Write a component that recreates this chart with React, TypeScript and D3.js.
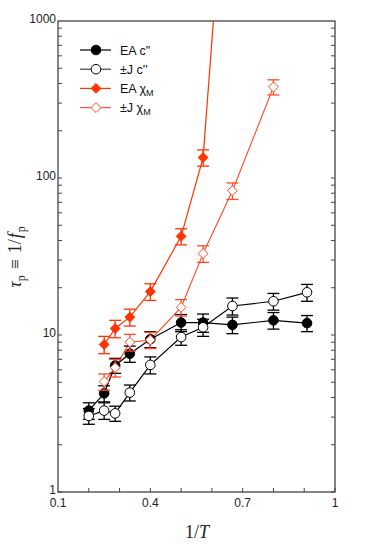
import * as d3 from "d3";
import { useEffect, useRef } from "react";

// 1/T values and peak times
const xEAc = [0.2, 0.25, 0.2857, 0.3333, 0.4, 0.5, 0.5714, 0.6667, 0.8, 0.9091];
const yEAc = [3.3, 4.25, 6.4, 7.6, 9.4, 12.0, 12.0, 11.6, 12.4, 11.9];
const eEAc = [0.4, 0.5, 0.7, 0.9, 1.1, 1.5, 1.6, 1.4, 1.5, 1.4];

const xPJc = [0.2, 0.25, 0.2857, 0.3333, 0.4, 0.5, 0.5714, 0.6667, 0.8, 0.9091];
const yPJc = [3.05, 3.3, 3.17, 4.3, 6.45, 9.7, 11.2, 15.3, 16.4, 18.7];
const ePJc = [0.35, 0.4, 0.35, 0.5, 0.8, 1.1, 1.4, 1.9, 2.0, 2.3];

const xEAx = [0.25, 0.2857, 0.3333, 0.4, 0.5, 0.5714, 0.6667];
const yEAx = [8.7, 11.0, 13.0, 18.9, 42.5, 135, 40000];
const eEAx = [1.1, 1.4, 1.6, 2.3, 5, 16, 0];

const xPJx = [0.25, 0.2857, 0.3333, 0.4, 0.5, 0.5714, 0.6667, 0.8];
const yPJx = [5.05, 6.2, 9.0, 9.3, 15.0, 33, 83, 380];
const ePJx = [0.6, 0.8, 1.1, 1.1, 1.8, 4, 10, 42];

const xTicks = [0.1, 0.4, 0.7, 1];
const yTicks = [1, 10, 100, 1000];

export default function App() {
  const ref = useRef<SVGSVGElement>(null);

  useEffect(() => {
    const W = 374, H = 548;
    const m = { left: 58, right: 39, top: 21, bottom: 56 };
    const svg = d3.select(ref.current);
    svg.selectAll("*").remove();

    const x = d3.scaleLinear().domain([0.1, 1]).range([m.left, W - m.right]);
    const y = d3.scaleLog().domain([1, 1000]).range([H - m.bottom, m.top]);

    const axisColor = "#444";
    const font = "'Liberation Sans', Arial, sans-serif";
    const serif = "'Liberation Serif', 'Times New Roman', serif";

    svg.append("defs").append("clipPath").attr("id", "plotclip")
      .append("rect")
      .attr("x", m.left).attr("y", m.top)
      .attr("width", W - m.left - m.right).attr("height", H - m.top - m.bottom);

    // ticks
    const g = svg.append("g");
    d3.range(1, 10).map(i => 0.1 * i + 0.1).forEach(v => {
      g.append("line").attr("x1", x(v)).attr("x2", x(v))
        .attr("y1", y(1)).attr("y2", y(1) - 4)
        .attr("stroke", axisColor).attr("stroke-width", 1);
    });
    const minor: number[] = [];
    [1, 10, 100].forEach(d => { for (let k = 1; k < 10; k++) minor.push(d * k); });
    minor.forEach(v => {
      g.append("line").attr("x1", m.left).attr("x2", m.left + 4)
        .attr("y1", y(v)).attr("y2", y(v)).attr("stroke", axisColor);
      g.append("line").attr("x1", W - m.right).attr("x2", W - m.right - 4)
        .attr("y1", y(v)).attr("y2", y(v)).attr("stroke", axisColor);
    });

    svg.append("rect")
      .attr("x", m.left).attr("y", m.top)
      .attr("width", W - m.left - m.right).attr("height", H - m.top - m.bottom)
      .attr("fill", "none").attr("stroke", axisColor).attr("stroke-width", 1.3);

    xTicks.forEach(v => {
      svg.append("text").attr("x", x(v)).attr("y", y(1) + 15)
        .attr("text-anchor", "middle").attr("font-family", font).attr("font-size", 12)
        .attr("fill", "#222").text(String(v));
    });
    yTicks.forEach(v => {
      svg.append("text").attr("x", m.left - 2).attr("y", y(v) + 2)
        .attr("text-anchor", "end").attr("font-family", font).attr("font-size", 12)
        .attr("fill", "#222").text(String(v));
    });

    // axis labels
    const xl = svg.append("text").attr("x", 197).attr("y", 538)
      .attr("text-anchor", "middle").attr("font-family", serif)
      .attr("font-size", 18).attr("fill", "#222");
    xl.append("tspan").text("1/");
    xl.append("tspan").attr("font-style", "italic").text("T");

    const yl = svg.append("text")
      .attr("transform", "translate(21,257) rotate(-90)")
      .attr("text-anchor", "middle").attr("font-family", serif)
      .attr("font-size", 18).attr("fill", "#222");
    yl.append("tspan").attr("font-style", "italic").text("τ");
    yl.append("tspan").attr("font-size", 12).attr("dy", 4).text("p");
    yl.append("tspan").attr("dy", -4).attr("dx", 6).text("≡");
    yl.append("tspan").attr("dx", 6).text("1/");
    yl.append("tspan").attr("font-style", "italic").attr("dx", 1).text("f");
    yl.append("tspan").attr("font-size", 12).attr("dy", 4).attr("dx", 1).text("p");

    const series = [
      { xs: xEAc, ys: yEAc, es: eEAc, color: "#000", fill: "#000", shape: "circle", lw: 1.2 },
      { xs: xPJc, ys: yPJc, es: ePJc, color: "#000", fill: "#fff", shape: "circle", lw: 1.2 },
      { xs: xEAx, ys: yEAx, es: eEAx, color: "#ff3300", fill: "#ff3300", shape: "diamond", lw: 1.2 },
      { xs: xPJx, ys: yPJx, es: ePJx, color: "#ff4a26", fill: "#fff", shape: "diamond", lw: 1.1 },
    ];

    const plot = svg.append("g").attr("clip-path", "url(#plotclip)");

    series.forEach(s => {
      const pts = s.xs.map((v, i) => [x(v), y(s.ys[i])] as [number, number]);
      plot.append("path")
        .attr("d", d3.line()(pts))
        .attr("fill", "none").attr("stroke", s.color).attr("stroke-width", s.lw);
    });

    series.forEach(s => {
      s.xs.forEach((v, i) => {
        const cx = x(v), val = s.ys[i], e = s.es[i];
        if (val > 1000) return;
        const y0 = y(val - e), y1 = y(val + e);
        const eb = plot.append("g").attr("stroke", s.color).attr("stroke-width", 1.3);
        eb.append("line").attr("x1", cx).attr("x2", cx).attr("y1", y0).attr("y2", y1);
        eb.append("line").attr("x1", cx - 6).attr("x2", cx + 6).attr("y1", y0).attr("y2", y0);
        eb.append("line").attr("x1", cx - 6).attr("x2", cx + 6).attr("y1", y1).attr("y2", y1);
        const cy = y(val);
        if (s.shape === "circle") {
          plot.append("circle").attr("cx", cx).attr("cy", cy).attr("r", 4.8)
            .attr("fill", s.fill).attr("stroke", s.color).attr("stroke-width", 1);
        } else {
          plot.append("path")
            .attr("d", d3.symbol(d3.symbolDiamond2, 62)())
            .attr("transform", `translate(${cx},${cy})`)
            .attr("fill", s.fill).attr("stroke", s.color).attr("stroke-width", 1);
        }
      });
    });

    // legend
    const labels = [["EA c''", ""], ["±J c''", ""], ["EA χ", "M"], ["±J χ", "M"]];
    const legColors = ["#000", "#444", "#ff3300", "#ff5533"];
    labels.forEach((lab, i) => {
      const ly = 50 + i * 19.2;
      const s = series[i];
      svg.append("line").attr("x1", 80).attr("x2", 111).attr("y1", ly).attr("y2", ly)
        .attr("stroke", legColors[i]).attr("stroke-width", 1.2);
      if (s.shape === "circle") {
        svg.append("circle").attr("cx", 96).attr("cy", ly).attr("r", 4.8)
          .attr("fill", s.fill).attr("stroke", s.color).attr("stroke-width", 1);
      } else {
        svg.append("path").attr("d", d3.symbol(d3.symbolDiamond2, 62)())
          .attr("transform", `translate(96,${ly})`)
          .attr("fill", s.fill).attr("stroke", s.color).attr("stroke-width", 1);
      }
      const t = svg.append("text").attr("x", 120).attr("y", ly + 4.5)
        .attr("font-family", font).attr("font-size", 12.5).attr("fill", "#111");
      t.append("tspan").text(lab[0]);
      if (lab[1]) t.append("tspan").attr("font-size", 9).attr("dy", 3).text(lab[1]);
    });
  }, []);

  return (
    <div style={{ position: "absolute", left: 0, top: 0 }}>
      <svg ref={ref} width={374} height={548} style={{ display: "block", background: "#fff" }} />
    </div>
  );
}
